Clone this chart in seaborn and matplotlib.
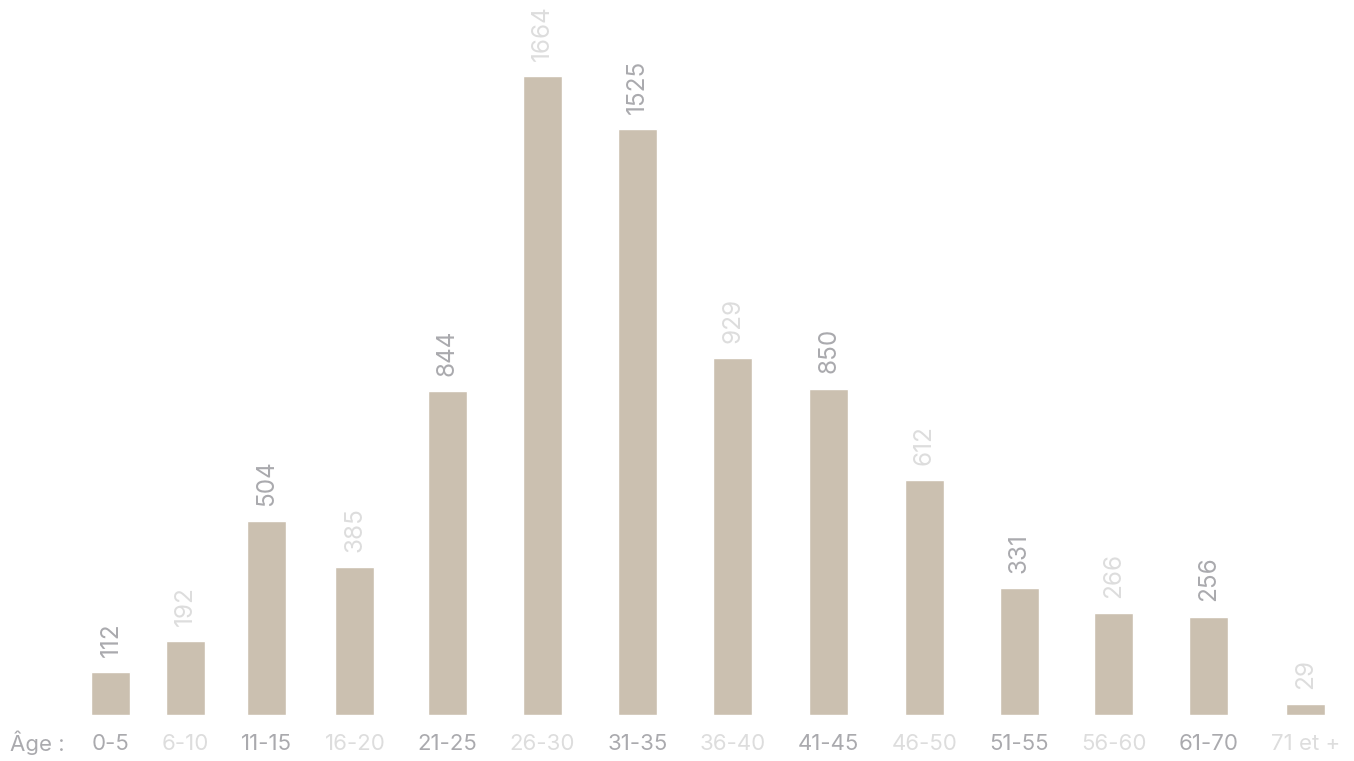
import matplotlib
matplotlib.use("Agg")
import matplotlib.pyplot as plt
import numpy as np
import seaborn as sns

# data
age_groups = ["0-5", "6-10", "11-15", "16-20", "21-25", "26-30", "31-35",
              "36-40", "41-45", "46-50", "51-55", "56-60", "61-70", "71 et +"]
counts = [112, 192, 504, 385, 844, 1664, 1525, 929, 850, 612, 331, 266, 256, 29]

bar_color = "#cbc0b0"
dark_text = "#aaaaae"
light_text = "#dddddd"
tick_size = 16
W, H = 1354, 761

sns.set_style("white")
plt.rcParams['font.family'] = ['Inter', 'DejaVu Sans']

fig = plt.figure(figsize=(W / 100, H / 100), dpi=100)
ax = fig.add_axes([0, 1 - 715 / H, 1, 715 / H])

# labels are spread like a flex row (space-between): measure their widths
renderer = fig.canvas.get_renderer()
widths = []
for g in age_groups:
    t = fig.text(0, 0, g, fontsize=tick_size)
    widths.append(t.get_window_extent(renderer).width)
    t.remove()
widths = np.array(widths)
row_left, row_right = 92, 1340
gap = (row_right - row_left - widths.sum()) / (len(widths) - 1)
centers = row_left + np.cumsum(widths + gap) - gap - widths / 2

bar_px = 39
sns.barplot(x=centers, y=counts, color=bar_color, native_scale=True,
            width=bar_px / np.diff(centers).min(), saturation=1, ax=ax)

ax.set_xlim(0, W)
ax.set_ylim(0, 1862)
sns.despine(ax=ax, left=True, bottom=True)
ax.set_yticks([])
ax.set_xticks(centers)
ax.set_xticklabels(age_groups)
ax.set_xlabel("")
ax.set_ylabel("")
ax.tick_params(axis="x", length=0, pad=13.5, labelsize=tick_size)

for i, (lbl, val) in enumerate(zip(ax.get_xticklabels(), counts)):
    col = dark_text if i % 2 == 0 else light_text
    lbl.set_color(col)
    ax.annotate(str(val), (centers[i], val), xytext=(0, 11),
                textcoords="offset points", rotation=90, ha="center",
                va="bottom", fontsize=17.5, color=col)

fig.text(10 / W, 1 - 743 / H, "Âge :", ha="left", va="center",
         fontsize=tick_size, color=dark_text)

fig.savefig("out.png", dpi=100)
